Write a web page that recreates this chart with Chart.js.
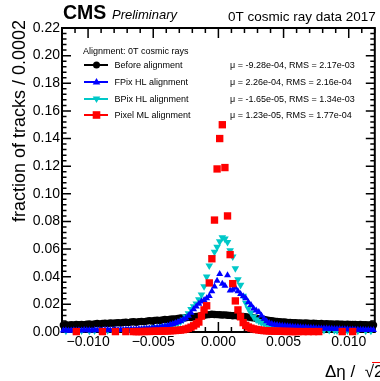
<!DOCTYPE html>
<html>
<head>
<meta charset="utf-8">
<script src="https://cdn.jsdelivr.net/npm/chart.js@4.4.1/dist/chart.umd.min.js"></script>
<style>
  html, body { margin: 0; padding: 0; background: #fff; }
  canvas { display: block; }
</style>
</head>
<body>
<canvas id="chart-residuals" width="380" height="381"></canvas>
<script>
'use strict';

// binning: 120 bins of 0.0002 between -0.012 and 0.012
var binLow   = -0.012;
var binWidth = 0.0002;
var nBins    = 120;

var xTicks = [-0.010, -0.005, 0.000, 0.005, 0.010];

var seriesNames = ['Before alignment', 'FPix HL alignment', 'BPix HL alignment', 'Pixel ML alignment'];
var seriesStats = [
    '\u03bc = -9.28e-04, RMS = 2.17e-03',
    '\u03bc = 2.26e-04, RMS = 2.16e-04',
    '\u03bc = -1.65e-05, RMS = 1.34e-03',
    '\u03bc = 1.23e-05, RMS = 1.77e-04'
];

var beforeAlign = [
    0.0050, 0.0052, 0.0049, 0.0053, 0.0051, 0.0054, 0.0052, 0.0055, 0.0053, 0.0056,
    0.0058, 0.0055, 0.0059, 0.0061, 0.0058, 0.0062, 0.0064, 0.0061, 0.0065, 0.0063,
    0.0066, 0.0068, 0.0065, 0.0069, 0.0071, 0.0068, 0.0072, 0.0074, 0.0071, 0.0075,
    0.0077, 0.0075, 0.0079, 0.0082, 0.0080, 0.0084, 0.0086, 0.0083, 0.0088, 0.0090,
    0.0089, 0.0093, 0.0095, 0.0094, 0.0098, 0.0101, 0.0099, 0.0104, 0.0106, 0.0105,
    0.0109, 0.0112, 0.0115, 0.0118, 0.0121, 0.0124, 0.0126, 0.0128, 0.0127, 0.0126,
    0.0125, 0.0123, 0.0124, 0.0121, 0.0120, 0.0118, 0.0119, 0.0116, 0.0114, 0.0112,
    0.0110, 0.0108, 0.0105, 0.0102, 0.0099, 0.0096, 0.0093, 0.0090, 0.0087, 0.0084,
    0.0081, 0.0079, 0.0077, 0.0075, 0.0073, 0.0072, 0.0070, 0.0069, 0.0068, 0.0067,
    0.0066, 0.0065, 0.0064, 0.0065, 0.0063, 0.0062, 0.0063, 0.0061, 0.0060, 0.0061,
    0.0059, 0.0060, 0.0058, 0.0059, 0.0057, 0.0058, 0.0056, 0.0057, 0.0055, 0.0056,
    0.0055, 0.0054, 0.0055, 0.0053, 0.0054, 0.0052, 0.0053, 0.0051, 0.0052, 0.0050
];

var fpixHL = [
    0.0010, 0.0012, 0.0009, 0.0011, 0.0013, 0.0010, 0.0012, 0.0011, 0.0014, 0.0012,
    0.0013, 0.0011, 0.0014, 0.0012, 0.0015, 0.0013, 0.0014, 0.0016, 0.0013, 0.0015,
    0.0016, 0.0014, 0.0017, 0.0016, 0.0018, 0.0017, 0.0019, 0.0018, 0.0020, 0.0021,
    0.0022, 0.0024, 0.0026, 0.0025, 0.0028, 0.0030, 0.0032, 0.0035, 0.0038, 0.0041,
    0.0046, 0.0052, 0.0058, 0.0065, 0.0072, 0.0080, 0.0090, 0.0100, 0.0118, 0.0140,
    0.0165, 0.0185, 0.0205, 0.0220, 0.0232, 0.0245, 0.0260, 0.0295, 0.0330, 0.0370,
    0.0420, 0.0350, 0.0335, 0.0410, 0.0300, 0.0305, 0.0320, 0.0295, 0.0275, 0.0258,
    0.0245, 0.0215, 0.0195, 0.0170, 0.0155, 0.0145, 0.0120, 0.0095, 0.0078, 0.0065,
    0.0058, 0.0053, 0.0050, 0.0047, 0.0045, 0.0043, 0.0041, 0.0040, 0.0038, 0.0037,
    0.0036, 0.0035, 0.0033, 0.0032, 0.0031, 0.0030, 0.0029, 0.0028, 0.0027, 0.0026,
    0.0025, 0.0025, 0.0024, 0.0023, 0.0022, 0.0022, 0.0021, 0.0020, 0.0020, 0.0019,
    0.0018, 0.0018, 0.0017, 0.0017, 0.0016, 0.0016, 0.0015, 0.0015, 0.0014, 0.0014
];

var bpixHL = [
    null,   0.0008, null,   null,   0.0009, null,   null,   0.0010, null,   null,
    0.0009, null,   0.0011, null,   null,   0.0010, null,   0.0012, null,   0.0011,
    null,   0.0013, null,   0.0014, null,   0.0015, 0.0016, null,   0.0018, 0.0019,
    0.0021, 0.0023, 0.0025, 0.0027, 0.0030, 0.0032, 0.0034, 0.0037, 0.0040, 0.0042,
    0.0045, 0.0048, 0.0052, 0.0058, 0.0065, 0.0075, 0.0088, 0.0110, 0.0135, 0.0165,
    0.0185, 0.0205, 0.0235, 0.0270, 0.0330, 0.0400, 0.0480, 0.0540, 0.0580, 0.0615,
    0.0655, 0.0685, 0.0675, 0.0650, 0.0590, 0.0545, 0.0460, 0.0380, 0.0340, 0.0260,
    0.0210, 0.0170, 0.0140, 0.0110, 0.0090, 0.0078, 0.0068, 0.0060, 0.0054, 0.0050,
    0.0046, 0.0043, 0.0040, 0.0037, 0.0035, 0.0033, 0.0031, 0.0029, 0.0027, 0.0025,
    0.0024, 0.0022, 0.0021, 0.0020, 0.0019, 0.0018, 0.0017, 0.0016, 0.0015, 0.0014,
    0.0014, null,   0.0013, null,   0.0012, 0.0011, null,   0.0011, null,   0.0010,
    null,   0.0010, null,   0.0009, null,   null,   0.0009, null,   0.0008, null
];

var pixelML = [
    null,   null,   null,   null,   null,   0.0003, null,   null,   null,   null,
    null,   null,   null,   null,   null,   0.0003, null,   null,   null,   null,
    0.0003, null,   null,   null,   0.0003, null,   null,   0.0003, 0.0003, 0.0003,
    0.0003, 0.0004, 0.0004, 0.0004, 0.0005, 0.0005, 0.0006, 0.0006, 0.0007, 0.0007,
    0.0008, 0.0009, 0.0010, 0.0011, 0.0012, 0.0014, 0.0017, 0.0021, 0.0027, 0.0035,
    0.0045, 0.0058, 0.0072, 0.0115, 0.0160, 0.0190, 0.0355, 0.0530, 0.0810, 0.1180,
    0.1400, 0.1500, 0.1190, 0.0840, 0.0560, 0.0350, 0.0225, 0.0160, 0.0110, 0.0068,
    0.0048, 0.0036, 0.0028, 0.0022, 0.0018, 0.0015, 0.0012, 0.0010, 0.0009, 0.0008,
    0.0007, 0.0006, 0.0006, 0.0005, 0.0005, 0.0004, 0.0004, 0.0004, 0.0003, 0.0003,
    0.0003, null,   0.0003, null,   0.0003, null,   0.0003, null,   0.0003, null,
    null,   null,   null,   null,   null,   null,   null,   0.0003, null,   null,
    null,   0.0003, null,   null,   null,   null,   null,   null,   null,   null
];

var colorBlack = '#000000';
var colorBlue  = '#0000ff';
var colorCyan  = '#00c8c8';
var colorRed   = '#ff0000';
var fontFamily = '"Liberation Sans", Arial, Helvetica, sans-serif';

function toPoints(values) {
    var pts = [];
    for (var i = 0; i < nBins; i++) {
        if (values[i] === null) continue;
        pts.push({ x: binLow + binWidth * (i + 0.5), y: values[i] });
    }
    return pts;
}

function fmtX(v) {
    if (Math.abs(v) < 1e-9) v = 0;
    return v.toFixed(3).replace('-', '\u2212');
}

// small marker painter for the hand-drawn legend
function marker(ctx, style, x, y, color) {
    ctx.fillStyle = color;
    ctx.beginPath();
    if (style === 'circle') {
        ctx.arc(x, y, 3.5, 0, Math.PI * 2);
    } else if (style === 'rect') {
        ctx.rect(x - 3.8, y - 3.8, 7.6, 7.6);
    } else if (style === 'up') {
        ctx.moveTo(x, y - 4); ctx.lineTo(x + 3.8, y + 2.5); ctx.lineTo(x - 3.8, y + 2.5);
    } else {
        ctx.moveTo(x, y + 4); ctx.lineTo(x + 3.8, y - 2.5); ctx.lineTo(x - 3.8, y - 2.5);
    }
    ctx.closePath();
    ctx.fill();
}

// ── frame with ROOT style inside ticks ──────────────────────────────────
var rootFrame = {
    id: 'rootFrame',
    beforeDatasetsDraw: function (chart) {
        var ctx = chart.ctx, a = chart.chartArea;
        var xs = chart.scales.x, ys = chart.scales.y;
        ctx.save();
        ctx.strokeStyle = '#000';
        ctx.lineWidth = 2;
        ctx.strokeRect(a.left, a.top, a.right - a.left, a.bottom - a.top);
        ctx.lineWidth = 1.5;
        ctx.beginPath();
        for (var k = -12; k <= 12; k++) {
            var px = xs.getPixelForValue(k * 0.001);
            var lx = (k % 5 === 0) ? 10 : 5;
            ctx.moveTo(px, a.bottom); ctx.lineTo(px, a.bottom - lx);
            ctx.moveTo(px, a.top);    ctx.lineTo(px, a.top + lx);
        }
        for (var j = 0; j <= 55; j++) {
            var py = ys.getPixelForValue(j * 0.004);
            var ly = (j % 5 === 0) ? 9 : 4.5;
            ctx.moveTo(a.left, py);  ctx.lineTo(a.left + ly, py);
            ctx.moveTo(a.right, py); ctx.lineTo(a.right - ly, py);
        }
        ctx.stroke();
        ctx.restore();
    },
    afterDraw: function (chart) {
        var ctx = chart.ctx, a = chart.chartArea;
        ctx.save();
        ctx.fillStyle = '#000';
        ctx.textBaseline = 'alphabetic';

        // header
        ctx.textAlign = 'left';
        ctx.font = 'bold 19.5px ' + fontFamily;
        ctx.fillText('CMS', a.left + 1, 19);
        ctx.font = 'italic 13px ' + fontFamily;
        ctx.fillText('Preliminary', 112, 19);
        ctx.textAlign = 'right';
        ctx.font = '13.5px ' + fontFamily;
        ctx.fillText('0T cosmic ray data 2017', a.right + 1, 21);

        // y title
        ctx.save();
        ctx.translate(25, 20);
        ctx.rotate(-Math.PI / 2);
        ctx.textAlign = 'right';
        ctx.font = '18px ' + fontFamily;
        ctx.fillText('fraction of tracks / 0.0002', 0, 0);
        ctx.restore();

        // x title
        ctx.textAlign = 'left';
        ctx.font = '17px ' + fontFamily;
        var t1 = '\u0394\u03b7 /  \u221a';
        ctx.fillText(t1 + '2', 325, 377);
        var w1 = ctx.measureText(t1).width;
        var w2 = ctx.measureText('2').width;
        ctx.lineWidth = 1;
        ctx.beginPath();
        ctx.moveTo(325 + w1 - 2, 362.5);
        ctx.lineTo(325 + w1 + w2 + 1, 362.5);
        ctx.stroke();

        // legend
        ctx.font = '9px ' + fontFamily;
        ctx.fillText('Alignment: 0T cosmic rays', 83, 54);
        var rows   = [65, 82, 99, 115];
        var colors = [colorBlack, colorBlue, colorCyan, colorRed];
        var styles = ['circle', 'up', 'down', 'rect'];
        for (var r = 0; r < 4; r++) {
            ctx.strokeStyle = colors[r];
            ctx.lineWidth = 2;
            ctx.beginPath();
            ctx.moveTo(84, rows[r]); ctx.lineTo(108, rows[r]);
            ctx.stroke();
            marker(ctx, styles[r], 96.5, rows[r], colors[r]);
            ctx.fillStyle = '#000';
            ctx.fillText(seriesNames[r], 114.5, rows[r] + 3.3);
            ctx.fillText(seriesStats[r], 230, rows[r] + 3.3);
        }
        ctx.restore();
    }
};

new Chart(document.getElementById('chart-residuals'), {
    type: 'scatter',
    data: {
        datasets: [
            {
                label: seriesNames[3], data: toPoints(pixelML), order: 1,
                pointStyle: 'rect', pointRadius: 5.2, backgroundColor: colorRed, borderColor: colorRed, borderWidth: 0
            },
            {
                label: seriesNames[1], data: toPoints(fpixHL), order: 2,
                pointStyle: 'triangle', pointRadius: 4, backgroundColor: colorBlue, borderColor: colorBlue, borderWidth: 0
            },
            {
                label: seriesNames[2], data: toPoints(bpixHL), order: 3,
                pointStyle: 'triangle', rotation: 180, pointRadius: 4.4, backgroundColor: colorCyan, borderColor: colorCyan, borderWidth: 0
            },
            {
                label: seriesNames[0], data: toPoints(beforeAlign), order: 4,
                pointStyle: 'circle', pointRadius: 3.7, backgroundColor: colorBlack, borderColor: colorBlack, borderWidth: 0
            }
        ]
    },
    options: {
        responsive: false,
        animation: false,
        devicePixelRatio: 1,
        clip: false,
        layout: { padding: { left: 0, right: 5, top: 28, bottom: 0 } },
        plugins: {
            legend: { display: false },
            tooltip: { enabled: false }
        },
        scales: {
            x: {
                type: 'linear',
                min: -0.012,
                max: 0.012,
                grid: { display: false, drawTicks: false },
                border: { display: false },
                afterFit: function (s) { s.height = 49; },
                afterBuildTicks: function (s) { s.ticks = xTicks.map(function (v) { return { value: v }; }); },
                ticks: {
                    padding: 2,
                    maxRotation: 0,
                    color: '#000',
                    font: { family: fontFamily, size: 14 },
                    callback: function (v) { return fmtX(v); }
                }
            },
            y: {
                min: 0,
                max: 0.22,
                grid: { display: false, drawTicks: false },
                border: { display: false },
                afterFit: function (s) { s.width = 62; },
                ticks: {
                    stepSize: 0.02,
                    padding: 2,
                    color: '#000',
                    font: { family: fontFamily, size: 14 },
                    callback: function (v) { return v.toFixed(2); }
                }
            }
        }
    },
    plugins: [rootFrame]
});
</script>
</body>
</html>
